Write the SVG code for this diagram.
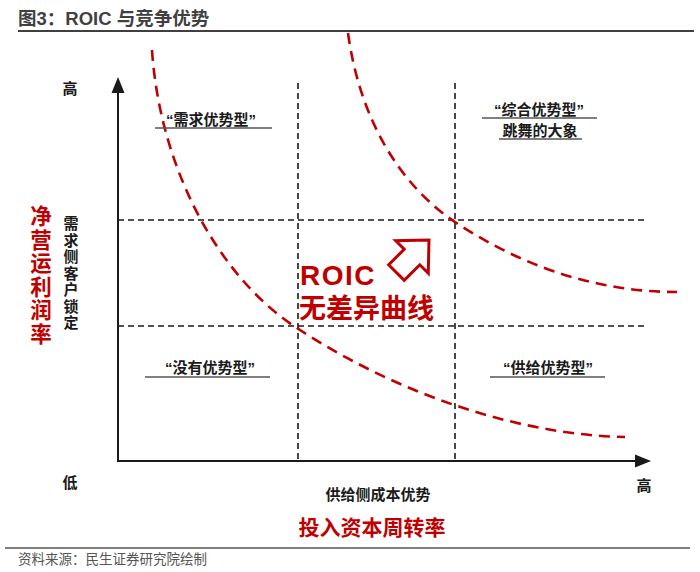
<svg xmlns="http://www.w3.org/2000/svg" width="700" height="572" viewBox="0 0 700 572">
<style>
  text { font-family: "Liberation Sans", "Noto Sans CJK SC", sans-serif; }
  .b { font-weight: bold; }
  .lbl { font-size: 15px; font-weight: bold; fill: #1a1a1a; text-anchor: middle; }
  .red { fill: #C00000; }
  .grid { stroke: #1a1a1a; stroke-width: 1.6; stroke-dasharray: 6 4; fill: none; }
  .curve { stroke: #C00000; stroke-width: 2.6; stroke-dasharray: 11 7; fill: none; }
  .ul { stroke: #555; stroke-width: 1.5; }
  .axis { stroke: #1a1a1a; stroke-width: 2; fill: none; }
</style>
<rect width="700" height="572" fill="#fff"/>

<g id="title">
  <text x="18" y="25" class="b" font-size="18.5" fill="#404040">图3：ROIC 与竞争优势</text>
  <line x1="18" y1="31" x2="694" y2="31" stroke="#404040" stroke-width="2"/>
</g>

<g id="connectors">
  <line class="grid" x1="118" y1="220" x2="648" y2="220"/>
  <line class="grid" x1="118" y1="326" x2="648" y2="326"/>
  <line class="grid" x1="298" y1="83" x2="298" y2="461"/>
  <line class="grid" x1="455" y1="83" x2="455" y2="461"/>
  <path class="curve" d="M152,50 C160,170 220,280 300,330 C400,395 520,435 625,437"/>
  <path class="curve" d="M348,33 C360,120 400,185 455,222 C515,262 590,292 677,292"/>
  <polyline class="axis" points="118,92 118,461 636,461"/>
  <path d="M111.5,93 L118,77 L124.5,93 Z" fill="#1a1a1a"/>
  <path d="M635,454.5 L651,461 L635,467.5 Z" fill="#1a1a1a"/>
</g>

<g id="y-axis-labels">
  <text x="70" y="94" class="lbl">高</text>
  <text x="70" y="488" class="lbl">低</text>
  <text class="b red" font-size="21.5" text-anchor="middle">
    <tspan x="41" y="224">净</tspan><tspan x="41" y="247.5">营</tspan><tspan x="41" y="271">运</tspan><tspan x="41" y="294.5">利</tspan><tspan x="41" y="318">润</tspan><tspan x="41" y="341.5">率</tspan>
  </text>
  <text class="lbl" font-size="14.5">
    <tspan x="71" y="229">需</tspan><tspan x="71" y="245.5">求</tspan><tspan x="71" y="262">侧</tspan><tspan x="71" y="278.5">客</tspan><tspan x="71" y="295">户</tspan><tspan x="71" y="311.5">锁</tspan><tspan x="71" y="328">定</tspan>
  </text>
</g>

<g id="x-axis-labels">
  <text x="644" y="491" class="lbl">高</text>
  <text x="378" y="500" class="lbl">供给侧成本优势</text>
  <text x="372" y="535" class="b red" font-size="21" text-anchor="middle">投入资本周转率</text>
</g>

<g id="q-demand">
  <text x="211" y="125" class="lbl">“需求优势型”</text>
  <line class="ul" x1="155" y1="128" x2="272" y2="128"/>
</g>
<g id="q-combined">
  <text x="539" y="115" class="lbl">“综合优势型”</text>
  <line class="ul" x1="482" y1="118" x2="597" y2="118"/>
  <text x="540" y="136" class="lbl">跳舞的大象</text>
  <line class="ul" x1="499" y1="139" x2="582" y2="139"/>
</g>
<g id="q-none">
  <text x="210" y="373" class="lbl">“没有优势型”</text>
  <line class="ul" x1="145" y1="377" x2="270" y2="377"/>
</g>
<g id="q-supply">
  <text x="548" y="373" class="lbl">“供给优势型”</text>
  <line class="ul" x1="490" y1="377" x2="605" y2="377"/>
</g>

<g id="roic">
  <text x="300" y="285" class="b red" font-size="28" letter-spacing="1.5">ROIC</text>
  <text x="299" y="318" class="b red" font-size="27">无差异曲线</text>
  <polygon transform="translate(412,257) rotate(-45)" points="-22,-11 0,-11 0,-23 24,0 0,23 0,11 -22,11" fill="#fff" stroke="#C00000" stroke-width="3" stroke-linejoin="miter"/>
</g>

<g id="footer">
  <line x1="5" y1="548" x2="690" y2="548" stroke="#555" stroke-width="1.5"/>
  <text x="18" y="564" font-size="13.5" fill="#555">资料来源：民生证券研究院绘制</text>
</g>
</svg>
